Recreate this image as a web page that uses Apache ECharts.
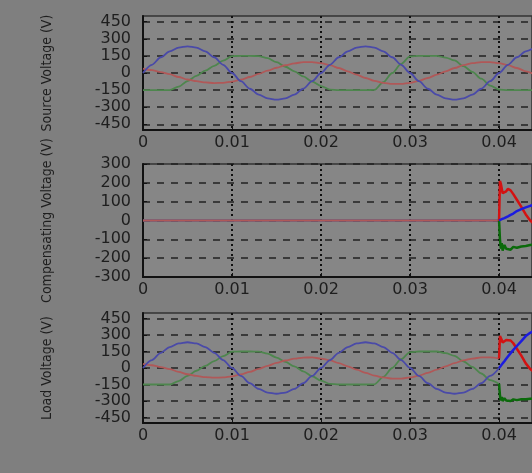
<!DOCTYPE html>
<html>
<head>
<meta charset="utf-8">
<script src="https://cdn.jsdelivr.net/npm/echarts@6/dist/echarts.min.js"></script>
<style>
  html, body { margin: 0; padding: 0; background: #7f7f7f; }
  #chart { width: 532px; height: 473px; }
</style>
</head>
<body>
<div id="chart"></div>
<script>
// time base (s), one sample per ms
var time = [0, 0.001, 0.002, 0.003, 0.004, 0.005, 0.006, 0.007, 0.008, 0.009,
  0.010, 0.011, 0.012, 0.013, 0.014, 0.015, 0.016, 0.017, 0.018, 0.019,
  0.020, 0.021, 0.022, 0.023, 0.024, 0.025, 0.026, 0.027, 0.028, 0.029,
  0.030, 0.031, 0.032, 0.033, 0.034, 0.035, 0.036, 0.037, 0.038, 0.039,
  0.040, 0.041, 0.042, 0.043, 0.044];

// source voltage
var srcBlue = [0, 72, 138, 190, 223, 234, 223, 190, 138, 72,
  0, -72, -138, -190, -223, -234, -223, -190, -138, -72,
  0, 72, 138, 190, 223, 234, 223, 190, 138, 72,
  0, -72, -138, -190, -223, -234, -223, -190, -138, -72,
  0, 72, 138, 190, 223];
var srcRed = [38, 25, 8, -10, -35, -57, -72, -83, -88, -86,
  -76, -58, -35, -8, 20, 46, 68, 85, 95, 96,
  86, 69, 44, 15, -15, -44, -69, -86, -96, -96,
  -86, -69, -44, -15, 15, 44, 69, 86, 96, 96,
  86, 69, 44, 15, -15];
var srcGreen = [-150, -150, -150, -150, -120, -72, -25, 20, 63, 108,
  148, 150, 150, 148, 130, 95, 55, 15, -30, -75,
  -115, -145, -150, -150, -150, -150, -148, -80, 0, 80,
  145, 150, 150, 150, 135, 110, 60, 10, -50, -110,
  -145, -150, -150, -150, -150];

// after the compensator switches on at 0.04 s
var tailTime = [0.0401, 0.0402, 0.0403, 0.0404, 0.0406, 0.0408, 0.041,
  0.0413, 0.0416, 0.042, 0.0425, 0.043, 0.0435, 0.044];

var compBlueTail = [2, 5, 7, 9, 13, 17, 22, 30, 37, 50, 60, 70, 78, 84];
var compRedTail = [210, 195, 170, 145, 140, 155, 168, 160, 140, 110, 72, 32, 0, -20];
var compGreenTail = [-100, -150, -120, -160, -130, -150, -140, -155, -140, -145, -138, -135, -130, -128];

var loadBlueTail = [10, 20, 30, 42, 62, 84, 105, 135, 165, 200, 245, 290, 320, 340];
var loadRedTail = [290, 280, 255, 232, 240, 255, 265, 250, 225, 175, 112, 42, -10, -40];
var loadGreenTail = [-250, -295, -265, -300, -275, -295, -285, -300, -285, -292, -285, -283, -280, -278];

// compensating voltage is flat zero until 0.04 s
var compPreTime = [0, 0.04];
var compPre = [0, 0];

var xTicks = [0, 0.01, 0.02, 0.03, 0.04];
var ticksSrc = [-450, -300, -150, 0, 150, 300, 450];
var ticksComp = [-300, -200, -100, 0, 100, 200, 300];
var ticksLoad = [-450, -300, -150, 0, 150, 300, 450];

var titles = ['Source Voltage (V)', 'Compensating Voltage (V)', 'Load Voltage (V)'];

var cBlue = '#4a4aa8', cRed = '#b05858', cGreen = '#4e864e';
var tBlue = '#1c1ce0', tRed = '#d41212', tGreen = '#0b6a0b';

function pairs(ts, vs) {
  return ts.map(function (t, i) { return [t, vs[i]]; });
}

var chart = echarts.init(document.getElementById('chart'));

var grids = [
  {top: 16, height: 114},
  {top: 164, height: 113},
  {top: 313, height: 110}
];

var labelFont = {color: '#1e1e1e', fontFamily: 'DejaVu Sans', fontSize: 16};

var xAxes = grids.map(function (g, i) {
  return {
    type: 'value', gridIndex: i, min: 0, max: 0.0437, interval: 0.01,
    axisLine: {show: true, onZero: false, lineStyle: {color: '#111', width: 2}},
    axisTick: {show: true, inside: true, length: 4, customValues: xTicks, lineStyle: {color: '#111'}},
    axisLabel: Object.assign({margin: 5, customValues: xTicks,
      formatter: function (v) { return v === 0 ? '0' : v.toFixed(2); }}, labelFont),
    splitLine: {show: true, lineStyle: {color: '#111', width: 2, type: [2, 3]}}
  };
});

var yTicks = [ticksSrc, ticksComp, ticksLoad];
var yRanges = [[-500, 500], [-300, 300], [-500, 500]];

var yAxes = grids.map(function (g, i) {
  return {
    type: 'value', gridIndex: i, min: yRanges[i][0], max: yRanges[i][1],
    name: titles[i], nameLocation: 'middle', nameGap: 89, nameRotate: 90,
    nameTextStyle: {color: '#1e1e1e', fontFamily: 'DejaVu Sans Condensed, Liberation Sans', fontSize: 14},
    axisLine: {show: true, lineStyle: {color: '#111', width: 2}},
    axisTick: {show: true, inside: true, length: 4, customValues: yTicks[i], lineStyle: {color: '#111'}},
    axisLabel: Object.assign({margin: 12, customValues: yTicks[i]}, labelFont),
    splitLine: {show: true, lineStyle: {color: '#222', width: 1.5, type: [7, 7]}}
  };
});

function line(idx, data, color, width, smooth) {
  return {
    type: 'line', xAxisIndex: idx, yAxisIndex: idx, data: data,
    showSymbol: false, smooth: smooth, smoothMonotone: 'x',
    lineStyle: {color: color, width: width}, silent: true, animation: false
  };
}

var preTime = time.slice(0, 41);
var series = [
  // source
  line(0, pairs(time, srcGreen), cGreen, 1.8, 0.3),
  line(0, pairs(time, srcRed), cRed, 1.8, 0.3),
  line(0, pairs(time, srcBlue), cBlue, 1.8, 0.3),
  // compensating
  line(1, pairs(compPreTime, compPre), cGreen, 2, false),
  line(1, pairs(compPreTime, compPre), cBlue, 2, false),
  line(1, pairs(compPreTime, compPre), cRed, 2, false),
  line(1, [[0.04, 0]].concat(pairs(tailTime, compGreenTail)), tGreen, 2.5, false),
  line(1, [[0.04, 0]].concat(pairs(tailTime, compRedTail)), tRed, 2.5, false),
  line(1, [[0.04, 0]].concat(pairs(tailTime, compBlueTail)), tBlue, 2.5, false),
  // load
  line(2, pairs(preTime, srcGreen.slice(0, 41)), cGreen, 1.8, 0.3),
  line(2, pairs(preTime, srcRed.slice(0, 41)), cRed, 1.8, 0.3),
  line(2, pairs(preTime, srcBlue.slice(0, 41)), cBlue, 1.8, 0.3),
  line(2, [[0.04, srcGreen[40]]].concat(pairs(tailTime, loadGreenTail)), tGreen, 2.5, false),
  line(2, [[0.04, srcRed[40]]].concat(pairs(tailTime, loadRedTail)), tRed, 2.5, false),
  line(2, [[0.04, srcBlue[40]]].concat(pairs(tailTime, loadBlueTail)), tBlue, 2.5, false)
];

chart.setOption({
  backgroundColor: '#7f7f7f',
  animation: false,
  grid: grids.map(function (g) {
    return {left: 143, right: -3, top: g.top, height: g.height, show: true,
      backgroundColor: '#868686', borderColor: '#333', borderWidth: 1.5};
  }),
  xAxis: xAxes,
  yAxis: yAxes,
  series: series
});
</script>
</body>
</html>
